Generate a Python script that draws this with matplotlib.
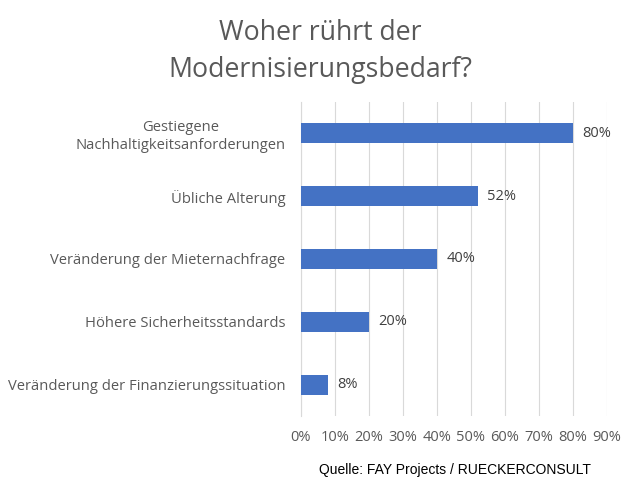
import matplotlib.pyplot as plt
from matplotlib.ticker import FuncFormatter

# Daten
kategorien = ["Gestiegene\nNachhaltigkeitsanforderungen",
              "Übliche Alterung",
              "Veränderung der Mieternachfrage",
              "Höhere Sicherheitsstandards",
              "Veränderung der Finanzierungssituation"]
werte = [80, 52, 40, 20, 8]
ticks = [0, 10, 20, 30, 40, 50, 60, 70, 80, 90]

grau = '#595959'
blau = '#4472C4'
plt.rcParams['font.family'] = ['Open Sans', 'DejaVu Sans']

fig = plt.figure(figsize=(6.4, 4.9), dpi=100)
ax = fig.add_axes([0.470, 0.151, 0.478, 0.641])

y = list(range(len(kategorien)))
ax.barh(y, werte, height=0.32, color=blau, zorder=3)
ax.set_ylim(len(kategorien) - 0.5, -0.5)
ax.set_xlim(0, 90)
ax.set_xticks(ticks)
ax.xaxis.set_major_formatter(FuncFormatter(lambda v, p: f"{v:.0f}%"))
ax.set_yticks(y)
ax.set_yticklabels(kategorien, ha='right', multialignment='center')
ax.tick_params(axis='y', length=0, pad=11, labelsize=10.65, labelcolor=grau)
ax.tick_params(axis='x', length=0, pad=10, labelsize=10.5, labelcolor=grau)
ax.grid(axis='x', color='#d9d9d9', linewidth=0.8, zorder=0)
for s in ['top', 'right', 'bottom']:
    ax.spines[s].set_visible(False)
ax.spines['left'].set_color('#d9d9d9')

# Werte an den Balken
for i, v in enumerate(werte):
    ax.text(v + 2.8, i, f"{v}%", va='center', ha='left', fontsize=10.5, color='#404040')

fig.text(0.5, 0.895, "Woher rührt der\nModernisierungsbedarf?", ha='center', va='center',
         fontsize=19.2, color=grau, linespacing=1.42)
fig.text(0.711, 0.04, "Quelle: FAY Projects / RUECKERCONSULT", ha='center', va='center',
         fontsize=10, color='black', family='Liberation Sans')

fig.savefig("out.png", dpi=100)
